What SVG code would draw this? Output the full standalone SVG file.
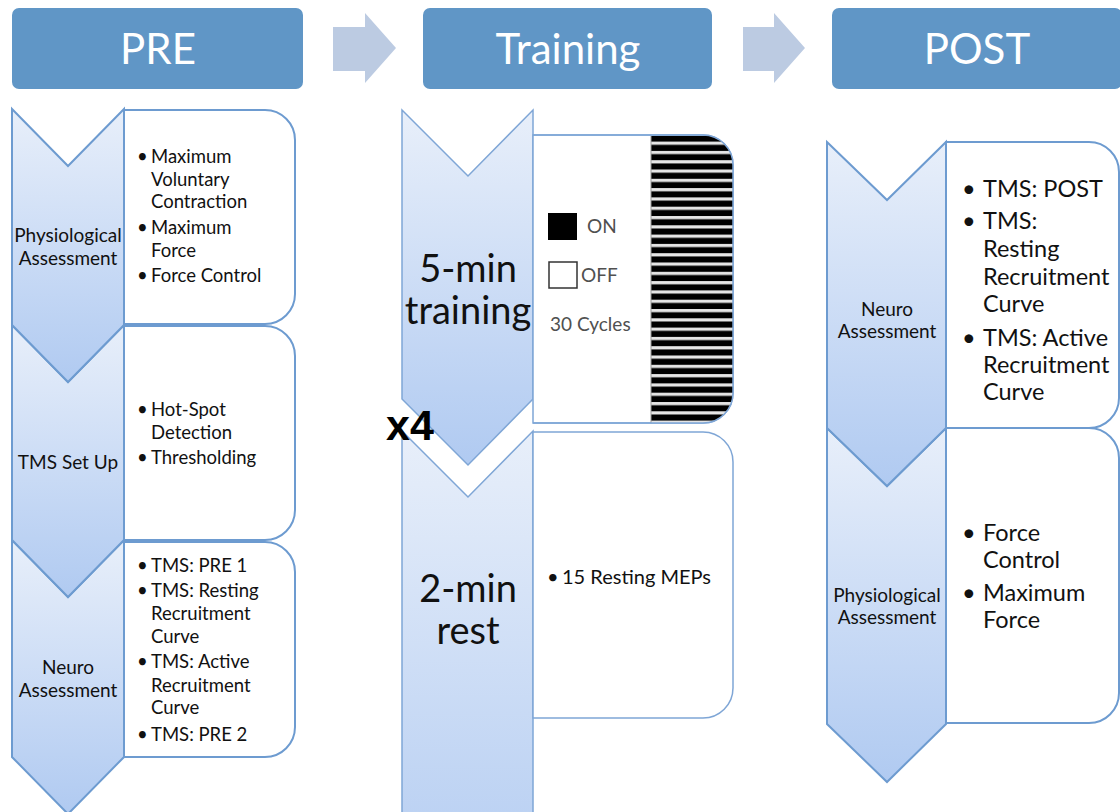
<svg xmlns="http://www.w3.org/2000/svg" width="1120" height="812" viewBox="0 0 1120 812">
<defs>
<linearGradient id="chev" x1="0" y1="0" x2="0" y2="1">
<stop offset="0" stop-color="#e8effa"/>
<stop offset="1" stop-color="#b0caf1"/>
</linearGradient>
<clipPath id="stripeClip">
<path d="M533,135 H703 A30,30 0 0 1 733,165 V393 A30,30 0 0 1 703,423 H533 Z"/>
</clipPath>
<pattern id="stripes" x="0" y="136" width="10" height="9.3" patternUnits="userSpaceOnUse">
<rect x="0" y="0" width="10" height="9.3" fill="#000"/>
<rect x="0" y="5.6" width="10" height="3.2" fill="#e6e6e6"/>
</pattern>
</defs>
<style>
.hdr{fill:#6096c6;}
.harrow{fill:#bccbe2;}
.htext{font-family:Lato,"Liberation Sans",sans-serif;font-size:42px;fill:#fff;text-anchor:middle;}
.chev{fill:url(#chev);stroke:#6d9bd0;stroke-width:2;stroke-linejoin:miter;}
.chevT{fill:url(#chev);stroke:#7fa6d6;stroke-width:1.5;}
.box{fill:#fff;stroke:#6d9bd0;stroke-width:2;}
.boxT{fill:#fff;stroke:#7fa6d6;stroke-width:1.5;}
.lbl{font-family:Lato,"Liberation Sans",sans-serif;font-size:19px;fill:#111;text-anchor:middle;}
.bul{font-family:Lato,"Liberation Sans",sans-serif;font-size:18.5px;fill:#111;}
.bulL{font-family:Lato,"Liberation Sans",sans-serif;font-size:23.5px;fill:#111;}
.big{font-family:Lato,"Liberation Sans",sans-serif;font-size:38px;fill:#111;text-anchor:middle;}
.gray{font-family:Lato,"Liberation Sans",sans-serif;font-size:19px;fill:#505050;}
</style>

<g id="header-pre">
<rect class="hdr" x="12" y="8" width="291" height="81" rx="7"/>
<text class="htext" x="158" y="64">PRE</text>
</g>
<g id="header-training">
<rect class="hdr" x="423" y="8" width="289" height="81" rx="7"/>
<text class="htext" x="568" y="64">Training</text>
</g>
<g id="header-post">
<rect class="hdr" x="832" y="8" width="290" height="81" rx="7"/>
<text class="htext" x="977" y="64">POST</text>
</g>

<g id="connectors">
<path class="harrow" d="M333,27 H365 V13 L396,48 L365,83 V71 H333 Z"/>
<path class="harrow" d="M743,27 H774 V13 L805,48 L774,83 V71 H743 Z"/>
</g>

<!-- PRE column -->
<g id="pre-neuro">
<path class="chev" d="M12,540 L68,597 L124,540 V757 L68,814 L12,757 Z"/>
<path class="box" d="M124,542 H265 A30,30 0 0 1 295,572 V727 A30,30 0 0 1 265,757 H124 Z"/>
<text class="lbl" x="68" y="674">Neuro</text>
<text class="lbl" x="68" y="697">Assessment</text>
<text class="bul"><tspan x="137" y="572">•</tspan><tspan x="151" y="572">TMS: PRE 1</tspan><tspan x="137" y="597">•</tspan><tspan x="151" y="597">TMS: Resting</tspan><tspan x="151" y="620">Recruitment</tspan><tspan x="151" y="643">Curve</tspan><tspan x="137" y="668">•</tspan><tspan x="151" y="668">TMS: Active</tspan><tspan x="151" y="692">Recruitment</tspan><tspan x="151" y="714">Curve</tspan><tspan x="137" y="741">•</tspan><tspan x="151" y="741">TMS: PRE 2</tspan></text>
</g>
<g id="pre-tms">
<path class="chev" d="M12,325 L68,382 L124,325 V540 L68,597 L12,540 Z"/>
<path class="box" d="M124,326 H265 A30,30 0 0 1 295,356 V510 A30,30 0 0 1 265,540 H124 Z"/>
<text class="lbl" x="68" y="469">TMS Set Up</text>
<text class="bul"><tspan x="137" y="416">•</tspan><tspan x="151" y="416">Hot-Spot</tspan><tspan x="151" y="439">Detection</tspan><tspan x="137" y="464">•</tspan><tspan x="151" y="464">Thresholding</tspan></text>
</g>
<g id="pre-physio">
<path class="chev" d="M12,109 L68,166 L124,109 V325 L68,382 L12,325 Z"/>
<path class="box" d="M124,110 H265 A30,30 0 0 1 295,140 V294 A30,30 0 0 1 265,324 H124 Z"/>
<text class="lbl" x="68" y="242">Physiological</text>
<text class="lbl" x="68" y="265">Assessment</text>
<text class="bul"><tspan x="137" y="163">•</tspan><tspan x="151" y="163">Maximum</tspan><tspan x="151" y="186">Voluntary</tspan><tspan x="151" y="208">Contraction</tspan><tspan x="137" y="234">•</tspan><tspan x="151" y="234">Maximum</tspan><tspan x="151" y="257">Force</tspan><tspan x="137" y="282">•</tspan><tspan x="151" y="282">Force Control</tspan></text>
</g>

<!-- Training column -->
<g id="train-rest">
<path class="chevT" d="M402,431 L468,497 L533,431 V860 L468,926 L402,860 Z"/>
<path class="boxT" d="M533,432 H703 A30,30 0 0 1 733,462 V688 A30,30 0 0 1 703,718 H533 Z"/>
<text class="big" x="468" y="602">2-min</text>
<text class="big" x="468" y="644">rest</text>
<text class="bul" style="font-size:20px"><tspan x="547" y="584">•</tspan><tspan x="562" y="584">15 Resting MEPs</tspan></text>
</g>
<g id="train-5min">
<path class="chevT" d="M402,110 L468,176 L533,110 V399 L468,465 L402,399 Z"/>
<path class="boxT" d="M533,135 H703 A30,30 0 0 1 733,165 V393 A30,30 0 0 1 703,423 H533 Z"/>
<rect x="651" y="136" width="82" height="287" fill="url(#stripes)" clip-path="url(#stripeClip)"/>
<line x1="651" y1="136" x2="651" y2="423" stroke="#999" stroke-width="1"/>
<path d="M533,135 H703 A30,30 0 0 1 733,165 V393 A30,30 0 0 1 703,423 H533" fill="none" stroke="#7fa6d6" stroke-width="1.5"/>
<rect x="548" y="213" width="29" height="27" fill="#000"/>
<text class="gray" x="587" y="233">ON</text>
<rect x="549" y="262" width="28" height="26" fill="#fff" stroke="#333" stroke-width="1.5"/>
<text class="gray" x="581" y="282">OFF</text>
<text class="gray" x="550" y="331">30 Cycles</text>
<text class="big" x="468" y="282">5-min</text>
<text class="big" x="468" y="324">training</text>
</g>
<g id="x4">
<text x="386" y="440" font-family="'Liberation Sans',Arial,sans-serif" font-weight="bold" font-size="43" fill="#000">x4</text>
</g>

<!-- POST column -->
<g id="post-physio">
<path class="chev" d="M827,428 L887,486 L946,428 V724 L887,782 L827,724 Z"/>
<path class="box" d="M946,428 H1089 A30,30 0 0 1 1119,458 V693 A30,30 0 0 1 1089,723 H946 Z"/>
<text class="lbl" x="887" y="602">Physiological</text>
<text class="lbl" x="887" y="624">Assessment</text>
<text class="bulL"><tspan x="962" y="541">•</tspan><tspan x="983" y="541">Force</tspan><tspan x="983" y="568">Control</tspan><tspan x="962" y="601">•</tspan><tspan x="983" y="601">Maximum</tspan><tspan x="983" y="628">Force</tspan></text>
</g>
<g id="post-neuro">
<path class="chev" d="M827,142 L887,200 L946,142 V428 L887,486 L827,428 Z"/>
<path class="box" d="M946,142 H1089 A30,30 0 0 1 1119,172 V398 A30,30 0 0 1 1089,428 H946 Z"/>
<text class="lbl" x="887" y="316">Neuro</text>
<text class="lbl" x="887" y="338">Assessment</text>
<text class="bulL"><tspan x="962" y="197">•</tspan><tspan x="983" y="197">TMS: POST</tspan><tspan x="962" y="229">•</tspan><tspan x="983" y="229">TMS:</tspan><tspan x="983" y="257">Resting</tspan><tspan x="983" y="285">Recruitment</tspan><tspan x="983" y="312">Curve</tspan><tspan x="962" y="346">•</tspan><tspan x="983" y="346">TMS: Active</tspan><tspan x="983" y="373">Recruitment</tspan><tspan x="983" y="400">Curve</tspan></text>
</g>
</svg>
